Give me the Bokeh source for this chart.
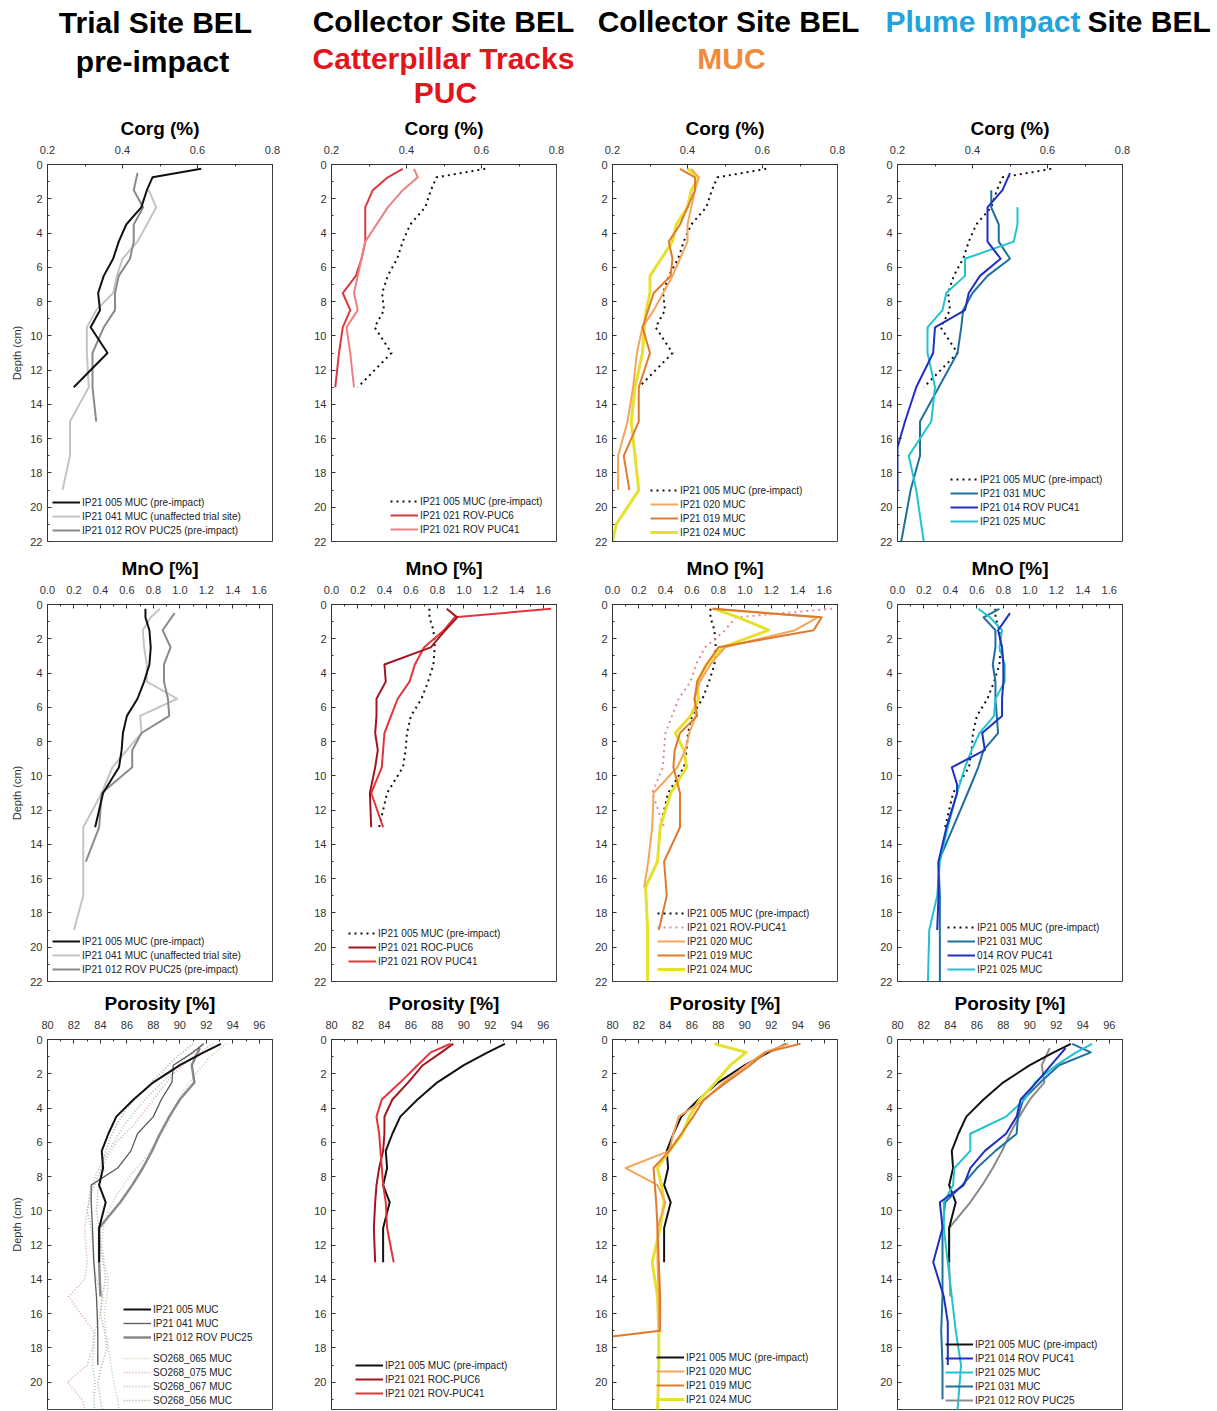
from bokeh.plotting import figure
from bokeh.layouts import column, row
from bokeh.models import Range1d, FixedTicker, NumeralTickFormatter, Legend, LegendItem, Label
from bokeh.embed import file_html
from bokeh.resources import INLINE

FONT = "Liberation Sans"

# ---------------- ticks ----------------
DEPTH_TICKS = [0, 2, 4, 6, 8, 10, 12, 14, 16, 18, 20, 22]
DEPTH_MINOR = [1, 3, 5, 7, 9, 11, 13, 15, 17, 19, 21]
CORG_TICKS = [0.2, 0.4, 0.6, 0.8]
CORG_MINOR = [0.3, 0.5, 0.7]
MNO_TICKS = [0.0, 0.2, 0.4, 0.6, 0.8, 1.0, 1.2, 1.4, 1.6]
MNO_MINOR = [0.1, 0.3, 0.5, 0.7, 0.9, 1.1, 1.3, 1.5, 1.7]
POR_TICKS = [80, 82, 84, 86, 88, 90, 92, 94, 96]
POR_MINOR = [81, 83, 85, 87, 89, 91, 93, 95, 97]
CORG_RANGE = (0.2, 0.8)
MNO_RANGE = (0.0, 1.7)
POR_RANGE = (80, 97)

# ---------------- data: depths (cm) ----------------
D13 = [0.25, 0.75, 1.5, 2.5, 3.5, 4.5, 5.5, 6.5, 7.5, 8.5, 9.5, 11, 13]

# ---------------- Corg (%) ----------------
CORG_005_D = D13
CORG_005 = [0.61, 0.48, 0.465, 0.45, 0.41, 0.39, 0.375, 0.35, 0.335, 0.34, 0.315, 0.36, 0.27]
CORG_041_D = [1.5, 2.5, 3.5, 4.5, 5.5, 6.5, 7.5, 8.5, 9.5, 11, 13, 15, 17, 19]
CORG_041 = [0.47, 0.49, 0.465, 0.44, 0.40, 0.385, 0.375, 0.33, 0.305, 0.305, 0.31, 0.26, 0.26, 0.24]
CORG_012_D = [0.5, 1.5, 2.5, 3.5, 4.5, 5.5, 6.5, 7.5, 8.5, 9.5, 11, 13, 15]
CORG_012 = [0.44, 0.43, 0.455, 0.43, 0.43, 0.42, 0.39, 0.38, 0.38, 0.35, 0.32, 0.32, 0.33]
CORG_PUC6_D = D13
CORG_PUC6 = [0.39, 0.35, 0.31, 0.29, 0.29, 0.29, 0.28, 0.265, 0.23, 0.25, 0.23, 0.22, 0.21]
CORG_PUC41_D = D13
CORG_PUC41 = [0.42, 0.43, 0.39, 0.35, 0.32, 0.29, 0.28, 0.27, 0.26, 0.27, 0.24, 0.25, 0.26]
CORG_020_D = [0.25, 0.75, 1.5, 2.5, 3.5, 4.5, 5.5, 6.5, 7.5, 8.5, 9.5, 11, 13, 15, 17, 19]
CORG_020 = [0.41, 0.43, 0.42, 0.41, 0.40, 0.40, 0.38, 0.36, 0.335, 0.31, 0.28, 0.265, 0.255, 0.24, 0.215, 0.215]
CORG_019_D = [0.25, 0.75, 1.5, 2.5, 3.5, 4.5, 5.5, 6.5, 7.5, 8.5, 9.5, 11, 13, 15, 17, 19]
CORG_019 = [0.38, 0.42, 0.42, 0.40, 0.38, 0.35, 0.36, 0.355, 0.31, 0.295, 0.28, 0.30, 0.27, 0.27, 0.23, 0.245]
CORG_024_D = [0.25, 0.75, 1.5, 2.5, 3.5, 4.5, 5.5, 6.5, 7.5, 8.5, 9.5, 11, 13, 15, 17, 19, 21, 22]
CORG_024 = [0.40, 0.43, 0.41, 0.40, 0.37, 0.36, 0.33, 0.30, 0.30, 0.29, 0.285, 0.28, 0.26, 0.25, 0.26, 0.27, 0.21, 0.20]
CORG_031_D = [1.5, 2.5, 3.5, 4.5, 5.5, 6.5, 7.5, 8.5, 9.5, 11, 13, 15, 17, 19, 22]
CORG_031 = [0.45, 0.45, 0.47, 0.47, 0.50, 0.44, 0.40, 0.375, 0.37, 0.36, 0.31, 0.26, 0.26, 0.235, 0.21]
CORG_014_D = [0.5, 1.5, 2.5, 3.5, 4.5, 5.5, 6.5, 7.5, 8.5, 9.5, 11, 13, 15, 16.5, 19]
CORG_014 = [0.50, 0.48, 0.44, 0.44, 0.44, 0.475, 0.42, 0.39, 0.38, 0.30, 0.295, 0.25, 0.22, 0.20, 0.20]
CORG_025_D = [2.5, 3.5, 4.5, 5.5, 6.5, 7.5, 8.5, 9.5, 11, 13, 15, 17, 19, 22]
CORG_025 = [0.52, 0.52, 0.51, 0.38, 0.38, 0.33, 0.32, 0.28, 0.28, 0.30, 0.29, 0.23, 0.25, 0.27]

# ---------------- MnO (%) ----------------
MNO_005_D = D13
MNO_005 = [0.74, 0.74, 0.77, 0.78, 0.77, 0.73, 0.68, 0.60, 0.57, 0.56, 0.54, 0.42, 0.36]
MNO_041_D = [0.25, 0.75, 1.5, 2.5, 3.5, 4.5, 5.5, 6.5, 7.5, 8.5, 9.5, 11, 13, 15, 17, 19]
MNO_041 = [0.85, 0.78, 0.72, 0.73, 0.75, 0.75, 0.98, 0.70, 0.71, 0.60, 0.49, 0.41, 0.27, 0.27, 0.27, 0.20]
MNO_012_D = [0.5, 1.5, 2.5, 3.5, 4.5, 5.5, 6.5, 7.5, 8.5, 9.5, 11, 13, 15]
MNO_012 = [0.96, 0.87, 0.93, 0.88, 0.88, 0.91, 0.92, 0.71, 0.64, 0.64, 0.41, 0.39, 0.29]
MNO_PUC6_D = D13
MNO_PUC6 = [0.87, 0.95, 0.86, 0.75, 0.40, 0.41, 0.34, 0.34, 0.33, 0.35, 0.33, 0.29, 0.30]
MNO_PUC41_D = D13
MNO_PUC41 = [1.66, 0.93, 0.85, 0.70, 0.63, 0.59, 0.50, 0.45, 0.40, 0.39, 0.38, 0.30, 0.39]
MNO_020_D = [0.25, 0.75, 1.5, 2.5, 3.5, 4.5, 5.5, 6.5, 7.5, 8.5, 9.5, 11, 13, 15, 16.5]
MNO_020 = [0.75, 1.55, 1.38, 0.85, 0.74, 0.66, 0.62, 0.63, 0.58, 0.55, 0.49, 0.31, 0.30, 0.27, 0.24]
MNO_019_D = [0.25, 0.75, 1.5, 2.5, 3.5, 4.5, 5.5, 6.5, 7.5, 8.5, 9.5, 11, 13, 15, 17, 19]
MNO_019 = [0.76, 1.58, 1.52, 0.80, 0.71, 0.64, 0.62, 0.64, 0.51, 0.47, 0.46, 0.51, 0.51, 0.39, 0.41, 0.35]
MNO_024_D = [0.25, 0.75, 1.5, 2.5, 3.5, 4.5, 5.5, 6.5, 7.5, 8.5, 9.5, 11, 13, 15, 16.5, 19, 22]
MNO_024 = [0.77, 0.95, 1.18, 0.83, 0.71, 0.64, 0.65, 0.59, 0.475, 0.54, 0.56, 0.44, 0.36, 0.34, 0.25, 0.265, 0.265]
MNO_031_D = [0.25, 0.75, 1.5, 2.5, 3.5, 4.5, 5.5, 6.5, 7.5, 8.5, 9.5, 11, 13, 15, 17, 19, 22]
MNO_031 = [0.77, 0.65, 0.74, 0.74, 0.72, 0.74, 0.74, 0.75, 0.76, 0.65, 0.61, 0.53, 0.42, 0.31, 0.32, 0.32, 0.32]
MNO_014_D = [0.5, 1.5, 2.5, 3.5, 4.5, 5.5, 6.5, 7.5, 8.5, 9.5, 10.5, 11, 13, 15, 17, 19]
MNO_014 = [0.85, 0.76, 0.79, 0.80, 0.80, 0.79, 0.79, 0.64, 0.66, 0.41, 0.45, 0.45, 0.37, 0.31, 0.31, 0.30]
MNO_025_D = [0.25, 0.75, 1.5, 2.5, 3.5, 4.5, 5.5, 6.5, 7.5, 8.5, 9.5, 11, 13, 15, 17, 19, 22]
MNO_025 = [0.61, 0.70, 0.79, 0.77, 0.81, 0.81, 0.74, 0.73, 0.62, 0.56, 0.51, 0.45, 0.38, 0.32, 0.30, 0.24, 0.23]

# ---------------- Porosity (%) ----------------
POR_005_D = D13
POR_005 = [93.1, 91.8, 90.0, 88.0, 86.5, 85.2, 84.6, 84.1, 84.2, 83.9, 84.4, 83.9, 83.9]
POR_041_D = [0.25, 0.75, 1.5, 2.5, 3.5, 4.5, 5.5, 6.5, 7.5, 8.5, 9.5, 11, 13, 15, 17, 19]
POR_041 = [91.8, 91.0, 89.5, 89.4, 88.6, 88.0, 86.8, 86.3, 85.3, 83.3, 83.3, 83.4, 83.5, 83.7, 83.8, 83.8]
POR_012_D = [0.5, 1.5, 2.5, 3.5, 4.5, 5.5, 6.5, 7.5, 8.5, 9.5, 11, 13, 15]
POR_012 = [91.5, 90.9, 91.1, 90.0, 89.2, 88.5, 87.9, 87.2, 86.4, 85.5, 83.9, 83.9, 84.0]
POR_PUC6_D = D13
POR_PUC6 = [89.2, 88.3, 86.9, 85.8, 84.6, 84.0, 84.0, 83.9, 83.6, 83.4, 83.3, 83.2, 83.3]
POR_PUC41_D = D13
POR_PUC41 = [89.0, 87.5, 86.5, 85.2, 83.8, 83.4, 83.6, 83.7, 83.8, 83.9, 84.1, 84.2, 84.7]
POR_020_D = [0.25, 0.75, 1.5, 2.5, 3.5, 4.5, 5.5, 6.5, 7.5, 8.5, 9.5, 11, 13, 15, 17]
POR_020 = [93.3, 91.5, 90.1, 88.4, 87.0, 85.0, 84.6, 84.3, 81.0, 83.4, 84.0, 83.4, 83.4, 83.5, 83.5]
POR_019_D = [0.25, 0.75, 1.5, 2.5, 3.5, 4.5, 5.5, 6.5, 7.5, 8.5, 9.5, 11, 13, 15, 17, 17.5]
POR_019 = [94.2, 91.6, 90.4, 88.6, 86.9, 86.1, 85.2, 84.3, 83.1, 83.2, 83.3, 83.4, 83.5, 83.6, 83.6, 78.0]
POR_024_D = [0.25, 0.75, 1.5, 2.5, 3.5, 4.5, 5.5, 6.5, 7.5, 8.5, 9.5, 11, 13, 15, 17, 19, 22]
POR_024 = [87.7, 90.1, 88.9, 87.8, 86.6, 85.8, 85.3, 84.3, 83.4, 83.7, 83.9, 83.6, 83.0, 83.4, 83.5, 83.5, 83.4]
POR_014_D = [0.5, 1.5, 2.5, 3.5, 4.5, 5.5, 6.5, 7.5, 8.5, 9.5, 11, 13, 15, 16.5, 19]
POR_014 = [92.7, 91.6, 90.5, 89.3, 89.0, 88.2, 86.6, 85.5, 85.0, 83.2, 83.4, 82.7, 83.5, 83.8, 83.8]
POR_025_D = [0.25, 0.75, 1.5, 2.5, 3.5, 4.5, 5.5, 6.5, 7.5, 8.5, 9.5, 11, 13, 15, 17, 19, 22]
POR_025 = [94.7, 93.5, 92.0, 90.4, 89.6, 88.2, 85.5, 85.5, 84.3, 84.2, 83.5, 83.5, 83.8, 84.1, 84.4, 84.8, 84.5]
POR_031_D = [0.25, 0.75, 1.5, 2.5, 3.5, 4.5, 5.5, 6.5, 7.5, 8.5, 9.5, 11, 13, 15, 17, 19, 21]
POR_031 = [93.2, 94.6, 92.2, 90.8, 89.5, 89.1, 89.0, 87.4, 86.0, 84.9, 83.6, 83.4, 83.4, 83.4, 83.3, 83.4, 83.4]
SO_D = [0.25, 1, 2, 3, 4, 5, 6, 7, 8, 9, 10, 11, 12, 13, 14, 15, 16, 17, 18, 19, 20, 21, 22]
SO_065 = [93.5, 92.3, 91.2, 90.3, 89.6, 89.0, 88.2, 87.3, 86.2, 85.3, 84.6, 84.2, 84.1, 84.3, 84.6, 84.5, 84.3, 84.4, 84.6, 84.8, 85.0, 85.3, 85.5]
SO_075 = [92.5, 91.0, 89.5, 88.5, 87.5, 86.5, 85.2, 84.4, 83.8, 83.3, 83.0, 82.8, 82.9, 83.0, 82.8, 81.6, 82.5, 83.5, 83.4, 83.0, 81.5, 82.6, 83.0]
SO_067 = [91.8, 90.5, 89.3, 88.0, 86.8, 85.8, 85.0, 84.2, 83.6, 83.2, 83.0, 83.3, 83.4, 83.5, 83.7, 84.2, 84.0, 83.6, 83.5, 83.4, 83.6, 83.5, 83.6]
SO_056 = [91.0, 89.8, 88.5, 87.2, 86.0, 85.2, 84.6, 84.2, 84.0, 83.8, 83.7, 83.9, 84.0, 84.2, 84.4, 84.1, 84.0, 84.3, 84.5, 84.1, 83.8, 84.0, 84.2]

# ---------------- styles ----------------
BLACK = "#111111"
GREY_LIGHT = "#c4c4c4"
GREY_MID = "#8a8a8a"
GREY_DARK = "#5a5a5a"
RED6_A = "#d83a3f"
RED41_A = "#ec8080"
RED6 = "#a3161d"
RED41 = "#e4333b"
PINK_DOT = "#e08a92"
OR20 = "#f3a65a"
OR19 = "#e07a2c"
YEL24 = "#e6e12c"
BL31 = "#1f6f9f"
BL14 = "#1f30c0"
CY25 = "#20c3cf"
SO_COLORS = ["#b2d39c", "#d8a6a6", "#a4c4a4", "#a8a8a8"]
DOT = "2 4"

COLS = [(290, 47), (285, 41), (285, 37), (355, 37)]   # (figure width, left border)
ROWS = [(54, 377, 8), (55, 377, 7), (51, 370, 1)]     # (top border, frame height, bottom border)
HEAD_H = 110
FRAME_W = 225
PX_PER_CM = 377 / 22.0


def panel(ci, ri, xr, ticks, minor, title, fmt):
    w, left = COLS[ci]
    top, fh, bottom = ROWS[ri]
    yend = fh / PX_PER_CM
    p = figure(width=w, height=top + fh + bottom,
               x_range=Range1d(*xr), y_range=Range1d(yend, 0),
               x_axis_location="above", title=None,
               toolbar_location=None, output_backend="svg",
               min_border_left=left, min_border_right=w - left - FRAME_W,
               min_border_top=top, min_border_bottom=bottom)
    p.grid.visible = False
    p.outline_line_color = "#444444"
    p.outline_line_width = 1
    p.background_fill_color = "white"
    p.border_fill_color = "white"
    for ax in p.axis:
        ax.axis_line_color = "#333333"
        ax.major_tick_line_color = "#333333"
        ax.minor_tick_line_color = "#333333"
        ax.major_tick_in = 4
        ax.major_tick_out = 0
        ax.minor_tick_in = 2
        ax.minor_tick_out = 0
        ax.major_label_text_font = FONT
        ax.major_label_text_font_size = "11px"
        ax.major_label_text_color = "#333333"
    xa = p.xaxis[0]
    xa.ticker = FixedTicker(ticks=ticks, minor_ticks=minor)
    xa.formatter = fmt
    xa.major_label_standoff = 11
    xa.axis_label = title
    xa.axis_label_text_font = FONT
    xa.axis_label_text_font_size = "19px"
    xa.axis_label_text_font_style = "bold"
    xa.axis_label_text_color = "black"
    xa.axis_label_standoff = 4
    ya = p.yaxis[0]
    ya.ticker = FixedTicker(ticks=DEPTH_TICKS, minor_ticks=DEPTH_MINOR)
    ya.major_label_standoff = 5
    if ci == 0:
        ya.axis_label = "Depth (cm)"
        ya.axis_label_text_font = FONT
        ya.axis_label_text_font_size = "11px"
        ya.axis_label_text_font_style = "normal"
        ya.axis_label_text_color = "#333333"
        ya.axis_label_standoff = 4
    return p


def ln(p, xs, ds, color, width=2.0, dash="solid"):
    return p.line(x=xs, y=ds, line_color=color, line_width=width,
                  line_dash=dash, line_join="round")


def legend(p, items, x, y):
    lg = Legend(items=[LegendItem(label=t, renderers=[r]) for t, r in items],
                location=(x, y), padding=2, spacing=0, margin=0,
                glyph_width=28, glyph_height=14, label_height=14,
                label_standoff=2, label_text_font=FONT,
                label_text_font_size="10px", label_text_color="#222222",
                background_fill_alpha=0, border_line_alpha=0)
    p.add_layout(lg)


F1 = NumeralTickFormatter(format="0.0")
F0 = NumeralTickFormatter(format="0")

# ================= Row 1: Corg =================
p1 = panel(0, 0, CORG_RANGE, CORG_TICKS, CORG_MINOR, "Corg (%)", F1)
r041 = ln(p1, CORG_041, CORG_041_D, GREY_LIGHT)
r012 = ln(p1, CORG_012, CORG_012_D, GREY_MID)
r005 = ln(p1, CORG_005, CORG_005_D, BLACK)
legend(p1, [("IP21 005 MUC (pre-impact)", r005),
            ("IP21 041 MUC (unaffected trial site)", r041),
            ("IP21 012 ROV PUC25 (pre-impact)", r012)], 3, 2)

p2 = panel(1, 0, CORG_RANGE, CORG_TICKS, CORG_MINOR, "Corg (%)", F1)
r005 = ln(p2, CORG_005, CORG_005_D, BLACK, 2, DOT)
r6 = ln(p2, CORG_PUC6, CORG_PUC6_D, RED6_A)
r41 = ln(p2, CORG_PUC41, CORG_PUC41_D, RED41_A)
legend(p2, [("IP21 005 MUC (pre-impact)", r005),
            ("IP21 021 ROV-PUC6", r6),
            ("IP21 021 ROV PUC41", r41)], 57, 3)

p3 = panel(2, 0, CORG_RANGE, CORG_TICKS, CORG_MINOR, "Corg (%)", F1)
r005 = ln(p3, CORG_005, CORG_005_D, BLACK, 2, DOT)
r24 = ln(p3, CORG_024, CORG_024_D, YEL24, 3)
r20 = ln(p3, CORG_020, CORG_020_D, OR20)
r19 = ln(p3, CORG_019, CORG_019_D, OR19)
legend(p3, [("IP21 005 MUC (pre-impact)", r005), ("IP21 020 MUC", r20),
            ("IP21 019 MUC", r19), ("IP21 024 MUC", r24)], 36, 0)

p4 = panel(3, 0, CORG_RANGE, CORG_TICKS, CORG_MINOR, "Corg (%)", F1)
r005 = ln(p4, CORG_005, CORG_005_D, BLACK, 2, DOT)
r31 = ln(p4, CORG_031, CORG_031_D, BL31)
r25 = ln(p4, CORG_025, CORG_025_D, CY25)
r14 = ln(p4, CORG_014, CORG_014_D, BL14)
legend(p4, [("IP21 005 MUC (pre-impact)", r005), ("IP21 031 MUC", r31),
            ("IP21 014 ROV PUC41", r14), ("IP21 025 MUC", r25)], 51, 11)

# ================= Row 2: MnO =================
p5 = panel(0, 1, MNO_RANGE, MNO_TICKS, MNO_MINOR, "MnO [%]", F1)
r041 = ln(p5, MNO_041, MNO_041_D, GREY_LIGHT)
r012 = ln(p5, MNO_012, MNO_012_D, GREY_MID)
r005 = ln(p5, MNO_005, MNO_005_D, BLACK)
legend(p5, [("IP21 005 MUC (pre-impact)", r005),
            ("IP21 041 MUC (unaffected trial site)", r041),
            ("IP21 012 ROV PUC25 (pre-impact)", r012)], 3, 3)

p6 = panel(1, 1, MNO_RANGE, MNO_TICKS, MNO_MINOR, "MnO [%]", F1)
r005 = ln(p6, MNO_005, MNO_005_D, BLACK, 2, DOT)
r41 = ln(p6, MNO_PUC41, MNO_PUC41_D, RED41)
r6 = ln(p6, MNO_PUC6, MNO_PUC6_D, RED6)
legend(p6, [("IP21 005 MUC (pre-impact)", r005),
            ("IP21 021 ROC-PUC6", r6),
            ("IP21 021 ROV PUC41", r41)], 15, 11)

p7 = panel(2, 1, MNO_RANGE, MNO_TICKS, MNO_MINOR, "MnO [%]", F1)
r005 = ln(p7, MNO_005, MNO_005_D, BLACK, 2, DOT)
r41 = ln(p7, MNO_PUC41, MNO_PUC41_D, PINK_DOT, 2, DOT)
r24 = ln(p7, MNO_024, MNO_024_D, YEL24, 3)
r20 = ln(p7, MNO_020, MNO_020_D, OR20)
r19 = ln(p7, MNO_019, MNO_019_D, OR19)
legend(p7, [("IP21 005 MUC (pre-impact)", r005), ("IP21 021 ROV-PUC41", r41),
            ("IP21 020 MUC", r20), ("IP21 019 MUC", r19),
            ("IP21 024 MUC", r24)], 43, 3)

p8 = panel(3, 1, MNO_RANGE, MNO_TICKS, MNO_MINOR, "MnO [%]", F1)
r005 = ln(p8, MNO_005, MNO_005_D, BLACK, 2, DOT)
r31 = ln(p8, MNO_031, MNO_031_D, BL31)
r25 = ln(p8, MNO_025, MNO_025_D, CY25)
r14 = ln(p8, MNO_014, MNO_014_D, BL14)
legend(p8, [("IP21 005 MUC (pre-impact)", r005), ("IP21 031 MUC", r31),
            ("014 ROV PUC41", r14), ("IP21 025 MUC", r25)], 48, 3)

# ================= Row 3: Porosity =================
p9 = panel(0, 2, POR_RANGE, POR_TICKS, POR_MINOR, "Porosity [%]", F0)
so_r = []
for vals, col in zip([SO_065, SO_075, SO_067, SO_056], SO_COLORS):
    so_r.append(ln(p9, vals, SO_D, col, 1.5, "1 2"))
r012 = ln(p9, POR_012, POR_012_D, GREY_MID, 2.5)
r041 = ln(p9, POR_041, POR_041_D, GREY_DARK, 1.3)
r005 = ln(p9, POR_005, POR_005_D, BLACK)
legend(p9, [("IP21 005 MUC", r005), ("IP21 041 MUC", r041),
            ("IP21 012 ROV PUC25", r012)], 74, 63)
legend(p9, [("SO268_065 MUC", so_r[0]), ("SO268_075 MUC", so_r[1]),
            ("SO268_067 MUC", so_r[2]), ("SO268_056 MUC", so_r[3])], 74, 0)

p10 = panel(1, 2, POR_RANGE, POR_TICKS, POR_MINOR, "Porosity [%]", F0)
r005 = ln(p10, POR_005, POR_005_D, BLACK)
r6 = ln(p10, POR_PUC6, POR_PUC6_D, RED6)
r41 = ln(p10, POR_PUC41, POR_PUC41_D, RED41)
legend(p10, [("IP21 005 MUC (pre-impact)", r005),
             ("IP21 021 ROC-PUC6", r6),
             ("IP21 021 ROV-PUC41", r41)], 22, 7)

p11 = panel(2, 2, POR_RANGE, POR_TICKS, POR_MINOR, "Porosity [%]", F0)
r005 = ln(p11, POR_005, POR_005_D, BLACK)
r24 = ln(p11, POR_024, POR_024_D, YEL24, 3)
r20 = ln(p11, POR_020, POR_020_D, OR20)
r19 = ln(p11, POR_019, POR_019_D, OR19)
legend(p11, [("IP21 005 MUC (pre-impact)", r005), ("IP21 020 MUC", r20),
             ("IP21 019 MUC", r19), ("IP21 024 MUC", r24)], 42, 1)

p12 = panel(3, 2, POR_RANGE, POR_TICKS, POR_MINOR, "Porosity [%]", F0)
r012 = ln(p12, POR_012, POR_012_D, GREY_MID)
r005 = ln(p12, POR_005, POR_005_D, BLACK)
r31 = ln(p12, POR_031, POR_031_D, BL31)
r25 = ln(p12, POR_025, POR_025_D, CY25)
r14 = ln(p12, POR_014, POR_014_D, BL14)
legend(p12, [("IP21 005 MUC (pre-impact)", r005), ("IP21 014 ROV PUC41", r14),
             ("IP21 025 MUC", r25), ("IP21 031 MUC", r31),
             ("IP21 012 ROV PUC25", r012)], 46, 0)

# ================= Header =================
head = figure(width=sum(c[0] for c in COLS), height=HEAD_H,
              x_range=Range1d(0, 1), y_range=Range1d(0, 1),
              x_axis_location=None, y_axis_location=None, title=None,
              toolbar_location=None, output_backend="svg", min_border=0)
head.grid.visible = False
head.outline_line_color = None


def hl(text, x, y_top, color, align="center"):
    # x: pixels from the left, y_top: pixels from the top of the header band
    head.add_layout(Label(x=x, y=HEAD_H - y_top, x_units="screen", y_units="screen", text=text,
                          text_font=FONT, text_font_size="30px", text_font_style="bold",
                          text_color=color, text_align=align, text_baseline="middle"))


RED_H = "#e3141b"
ORANGE_H = "#ee8c3a"
BLUE_H = "#22a3dd"
hl("Trial Site BEL", 155, 22, "black")
hl("pre-impact", 152, 61, "black")
hl("Collector Site BEL", 443, 21, "black")
hl("Catterpillar Tracks", 443, 58, RED_H)
hl("PUC", 445, 92, RED_H)
hl("Collector Site BEL", 728, 21, "black")
hl("MUC", 731, 58, ORANGE_H)
hl("Plume Impact", 1080, 21, BLUE_H, "right")
hl("Site BEL", 1087, 21, "black", "left")

layout = column(head,
                row(p1, p2, p3, p4),
                row(p5, p6, p7, p8),
                row(p9, p10, p11, p12))

open("out.html", "w").write(file_html(layout, INLINE))
